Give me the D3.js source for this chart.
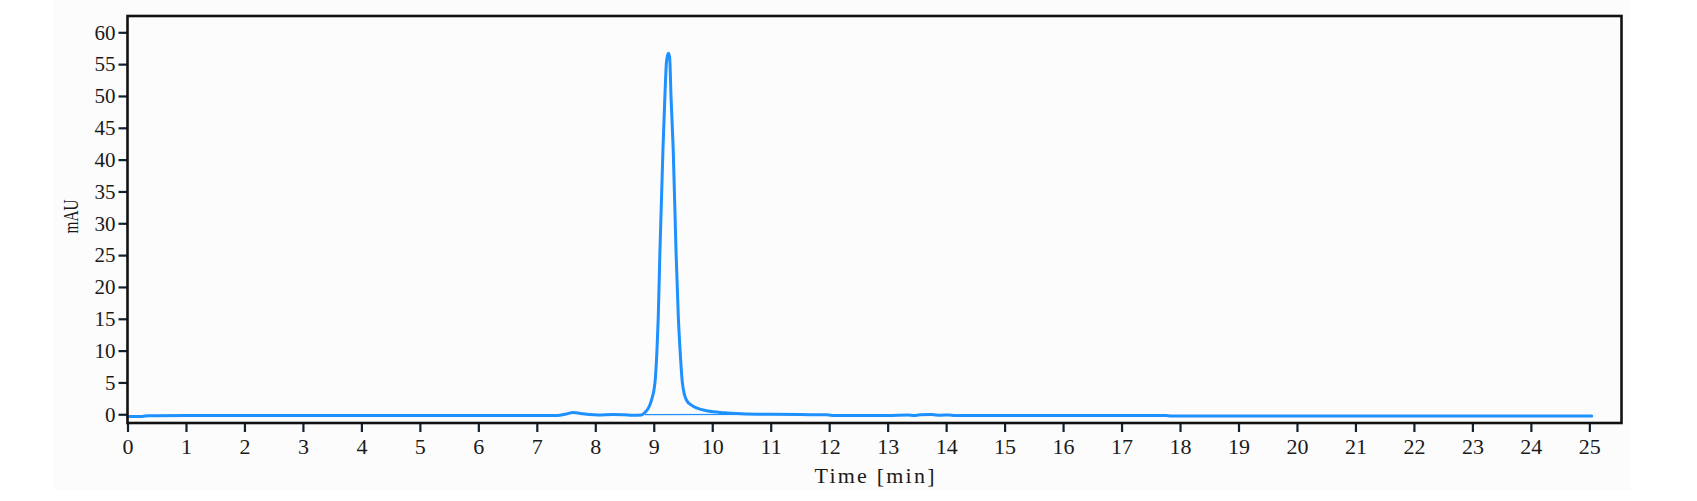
<!DOCTYPE html>
<html>
<head>
<meta charset="utf-8">
<script src="https://cdn.jsdelivr.net/npm/d3@7"></script>
<style>
  html, body { margin: 0; padding: 0; background: #ffffff; }
  svg { display: block; }
</style>
</head>
<body>
<svg id="chart" width="1697" height="501"></svg>
<script>
// ---- Data ----
const timeMin = [0, 0.25, 0.35, 1, 2, 3, 4, 5, 6, 7, 7.35, 7.5, 7.62, 7.75, 7.9, 8.05, 8.3, 8.5, 8.65, 8.79,
  8.85, 8.91, 8.96, 9.02, 9.055, 9.077, 9.106, 9.157, 9.19, 9.22, 9.25, 9.272, 9.295, 9.333, 9.38, 9.42, 9.45, 9.49,
  9.56, 9.65, 9.73, 9.93, 10.2, 10.5, 11.0, 11.5, 11.95, 12.05, 13.0, 13.35, 13.45, 13.55, 13.75, 13.9, 14.05, 14.15,
  15, 16, 17, 17.75, 17.85, 19, 20, 21, 22, 23, 24, 25.04];
const signal = [-0.35, -0.35, -0.22, -0.2, -0.2, -0.2, -0.2, -0.2, -0.2, -0.2, -0.18, 0.05, 0.28, 0.12, -0.05, -0.12, -0.02, -0.08, -0.15, -0.1,
  0.3, 1.0, 2.2, 4.9, 10.1, 15.3, 25.8, 41.5, 49.9, 55.6, 56.7, 56.0, 49.9, 41.5, 25.8, 15.3, 10.1, 4.9,
  2.2, 1.4, 1.0, 0.5, 0.25, 0.1, 0.0, -0.05, -0.08, -0.18, -0.2, -0.1, -0.2, -0.08, -0.05, -0.15, -0.1, -0.2,
  -0.2, -0.2, -0.2, -0.2, -0.27, -0.27, -0.27, -0.27, -0.27, -0.27, -0.27, -0.27];
// integration baseline under the main peak
const baseTime = [8.85, 11.0];
const baseValue = [-0.05, -0.02];

const xTicks = d3.range(0, 26, 1);
const yTicks = d3.range(0, 61, 5);
const xLabel = "Time [min]";
const yLabel = "mAU";

// ---- Layout ----
const svg = d3.select("#chart");
const plot = { left: 127.5, right: 1621.5, top: 16, bottom: 423 };
const x = d3.scaleLinear().domain([0, 25.55]).range([plot.left, plot.right]);
const y = d3.scaleLinear().domain([-1.37, 62.56]).range([plot.bottom, plot.top]);
const font = "'Liberation Serif', 'DejaVu Serif', serif";
const tickColor = "#14202e";
const textColor = "#1a1a1a";
const lineColor = "#1e90ff";

// light panel background
svg.append("rect").attr("x", 53).attr("y", 0).attr("width", 1577).attr("height", 490).attr("fill", "#fcfcfc");

// axes ticks
const xAxis = d3.axisBottom(x).tickValues(xTicks).tickSize(9).tickSizeOuter(0).tickPadding(6).tickFormat(d3.format("d"));
const gx = svg.append("g").attr("transform", `translate(0,${plot.bottom})`).call(xAxis);
gx.select(".domain").remove();
gx.selectAll(".tick line").attr("stroke", tickColor).attr("stroke-width", 2.2);
gx.selectAll(".tick text").attr("fill", textColor).attr("font-family", font).attr("font-size", 22);

const yAxis = d3.axisLeft(y).tickValues(yTicks).tickSize(9).tickSizeOuter(0).tickPadding(3).tickFormat(d3.format("d"));
const gy = svg.append("g").attr("transform", `translate(${plot.left},0)`).call(yAxis);
gy.select(".domain").remove();
gy.selectAll(".tick line").attr("stroke", tickColor).attr("stroke-width", 2.2);
gy.selectAll(".tick text").attr("fill", textColor).attr("font-family", font).attr("font-size", 21);

// data line
const pts = timeMin.map((t, i) => [t, signal[i]]);
const line = d3.line().x(d => x(d[0])).y(d => y(d[1])).curve(d3.curveMonotoneX);
svg.append("path").datum(pts).attr("d", line).attr("fill", "none")
  .attr("stroke", lineColor).attr("stroke-width", 3).attr("stroke-linejoin", "round").attr("stroke-linecap", "round");

// integration baseline
const bpts = baseTime.map((t, i) => [t, baseValue[i]]);
svg.append("path").datum(bpts).attr("d", d3.line().x(d => x(d[0])).y(d => y(d[1])))
  .attr("fill", "none").attr("stroke", lineColor).attr("stroke-width", 1.2);

// frame
svg.append("rect").attr("x", plot.left).attr("y", plot.top)
  .attr("width", plot.right - plot.left).attr("height", plot.bottom - plot.top)
  .attr("fill", "none").attr("stroke", "#111111").attr("stroke-width", 2.6);

// axis labels
svg.append("text").attr("x", (plot.left + plot.right) / 2).attr("y", 483)
  .attr("text-anchor", "middle").attr("font-family", font).attr("font-size", 22).attr("fill", textColor)
  .attr("textLength", 120).attr("lengthAdjust", "spacing").text(xLabel);

svg.append("text").attr("transform", "translate(78,216.5) rotate(-90)")
  .attr("text-anchor", "middle").attr("font-family", font).attr("font-size", 22).attr("fill", textColor)
  .attr("textLength", 34).attr("lengthAdjust", "spacingAndGlyphs").text(yLabel);
</script>
</body>
</html>
